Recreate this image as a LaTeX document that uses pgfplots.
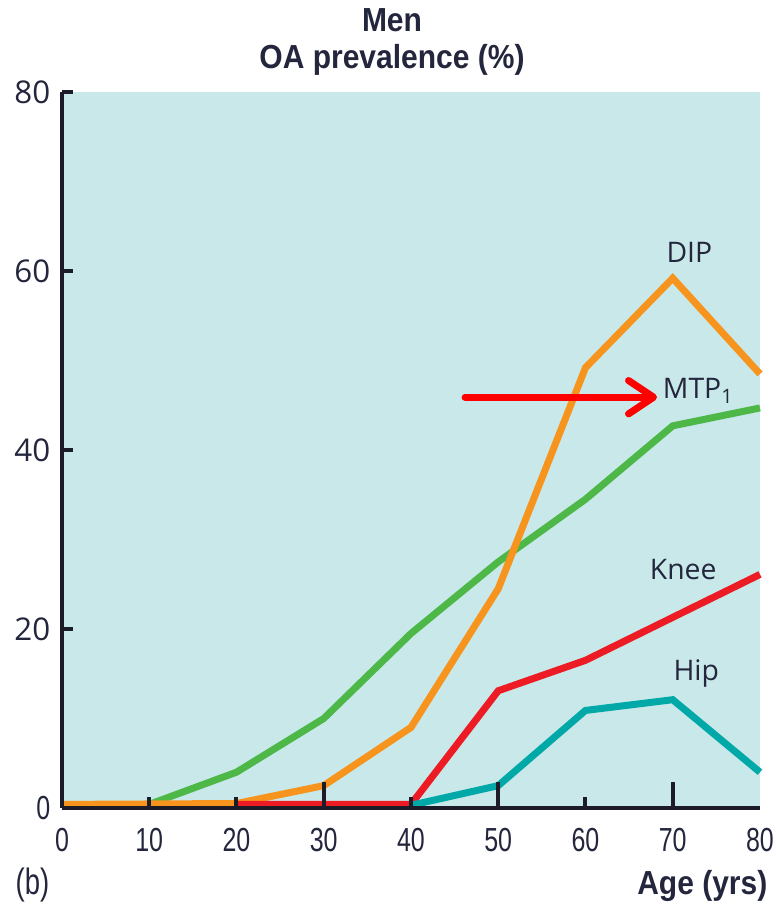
\documentclass[border=0pt]{standalone}
\usepackage{fontspec}
\setmainfont{Open Sans}
\newfontfamily\condfont[FakeStretch=0.75]{Liberation Sans}
\newfontfamily\titlefont[FakeStretch=0.9]{Liberation Sans}
\usepackage{pgfplots}
\pgfplotsset{compat=1.18}
\usetikzlibrary{arrows.meta}
\definecolor{bgc}{RGB}{200,232,234}
\definecolor{dipc}{RGB}{247,148,29}
\definecolor{mtpc}{RGB}{77,184,72}
\definecolor{kneec}{RGB}{237,28,36}
\definecolor{hipc}{RGB}{0,168,168}
\definecolor{axc}{RGB}{28,28,40}
\definecolor{txc}{RGB}{35,38,60}
\begin{document}
\begin{tikzpicture}
\begin{axis}[
  at={(0pt,0pt)}, anchor=south west,
  scale only axis, width=209.4pt, height=214.8pt,
  xmin=0, xmax=80, ymin=0, ymax=80,
  axis lines=left,
  axis line style={-, line width=1.2pt, draw=axc},
  axis background/.style={fill=bgc},
  axis on top,
  clip=false,
  tick align=inside,
  xtick={10,20,40,60},
  minor xtick={30,50,70},
  major tick length=3.2pt, minor tick length=7.8pt,
  tick style={line width=1.2pt, draw=axc},
  extra x ticks={0,30,50,70,80},
  extra x tick style={major tick length=0pt},
  ytick={0,20,40,60,80},
  yticklabels={{\condfont\fontsize{10}{12}\selectfont 0},20,40,60,80},
  /pgf/number format/assume math mode=true,
  xticklabel style={font=\condfont\fontsize{10}{12}\selectfont, yshift=-2.6pt, text=txc},
  yticklabel style={font=\fontsize{9.4}{11}\selectfont, text=txc},
  every axis plot/.append style={no marks, line width=2.1pt},
]
\addplot[mtpc] coordinates {(10,0.4) (20,4) (30,10) (40,19.5) (50,27.5) (60,34.5) (70,42.7) (80,44.7)};
\addplot[dipc] coordinates {(0,0.4) (20,0.5) (30,2.5) (40,9) (50,24.5) (60,49.2) (70,59.2) (80,48.5)};
\addplot[kneec] coordinates {(20,0.4) (40,0.4) (50,13.1) (60,16.5) (70,21.3) (80,26.1)};
\addplot[hipc] coordinates {(40,0.3) (50,2.5) (60,10.9) (70,12.1) (80,4)};

\node[anchor=base, font=\fontsize{8.5}{10}\selectfont, text=txc] at (axis cs:71.9,61.0) {DIP};
\node[anchor=base west, inner sep=0pt, font=\fontsize{8.5}{10}\selectfont, text=txc] at (axis cs:68.8,45.7) {MTP\textsubscript{1}};
\node[anchor=base, font=\fontsize{8.5}{10}\selectfont, text=txc] at (axis cs:71.2,25.5) {Knee};
\node[anchor=base, font=\fontsize{8.5}{10}\selectfont, text=txc] at (axis cs:72.7,14.3) {Hip};
\draw[red, line width=2.1pt, line cap=round, -{Straight Barb[length=7.5pt,width=10pt,round]}] (axis cs:46.2,45.9) -- (axis cs:68.2,45.9);

\node[font=\titlefont\bfseries\fontsize{10}{11.1}\selectfont, align=center, text=txc] at (axis description cs:0.4728,1.0700) {Men\\OA prevalence (\%)};
\node[anchor=base west, inner sep=0pt, font=\condfont\fontsize{11}{13}\selectfont, text=txc] at (axis description cs:-0.0673,-0.1215) {(b)};
\node[anchor=base east, inner sep=0pt, font=\titlefont\bfseries\fontsize{10}{12}\selectfont, text=txc] at (axis description cs:1.0115,-0.1215) {Age (yrs)};
\end{axis}
\pgfresetboundingbox
\path[use as bounding box] (-18.6pt,-29.1pt) rectangle (214.2pt,242.4pt);
\end{tikzpicture}
\end{document}
